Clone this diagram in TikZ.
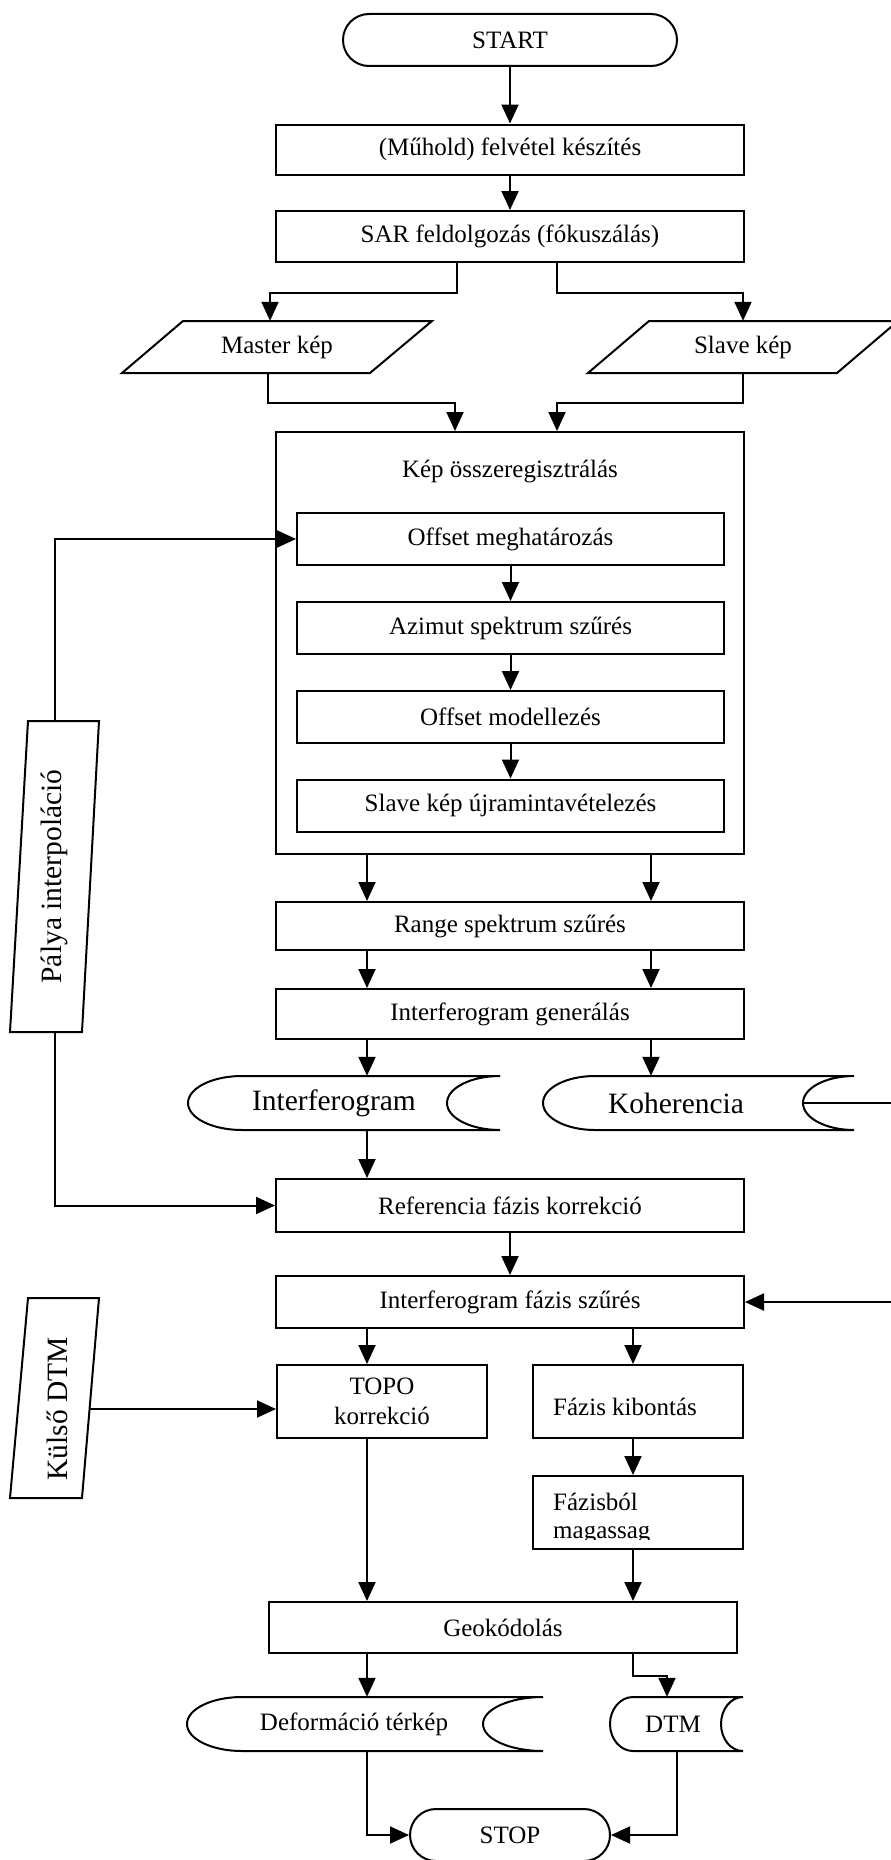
\documentclass[tikz,border=0pt]{standalone}
\usepackage{fontspec}
\setmainfont{Liberation Serif}
\usetikzlibrary{arrows.meta,calc}
\newcommand\fsmain{\fontsize{25}{29.5}\selectfont}
\newcommand\fsbig{\fontsize{29.5}{35}\selectfont}
% stored-data outline: x1, x2, ytop, ybot, left bulge, right concave depth
\newcommand\storeshape[6]{%
  \pgfmathsetmacro\sYm{(#3+#4)/2}%
  \pgfmathsetmacro\sRy{(#4-#3)/2}%
  \pgfmathsetmacro\sXa{#1+#5}%
  \pgfmathsetmacro\sKa{#1+0.4477*#5}%
  \pgfmathsetmacro\sXc{#2-#6}%
  \pgfmathsetmacro\sKr{#2-0.5523*#6}%
  \pgfmathsetmacro\sYa{\sYm-0.5523*\sRy}%
  \pgfmathsetmacro\sYb{\sYm+0.5523*\sRy}%
  \draw[ln,fill=white] (\sXa,#3) -- (#2,#3) .. controls (\sKr,#3) and (\sXc,\sYa) .. (\sXc,\sYm)
    .. controls (\sXc,\sYb) and (\sKr,#4) .. (#2,#4) -- (\sXa,#4)
    .. controls (\sKa,#4) and (#1,\sYb) .. (#1,\sYm) .. controls (#1,\sYa) and (\sKa,#3) .. cycle;
}
\tikzset{
  ln/.style={line width=2pt},
  arr/.style={ln,-{Triangle[length=19pt,width=17pt]}},
  box/.style={draw,ln,rectangle,fill=white,inner sep=0pt,font=\fsmain,align=center},
  term/.style={box,rounded corners=26pt},
  txt/.style={inner sep=0pt,font=\fsmain,align=center},
  bigtxt/.style={inner sep=0pt,font=\fsbig},
}
\begin{document}
\begin{tikzpicture}[x=1pt,y=-1pt]
\useasboundingbox (0,0) rectangle (891,1860);
\fill[white] (0,0) rectangle (891,1860);
\clip (0,0) rectangle (891,1860);

% column coordinates
\coordinate (cL) at (367,0);
\coordinate (cR) at (651,0);
\coordinate (cF) at (633,0);
\coordinate (cD) at (667,0);
\coordinate (cD2) at (677,0);
\coordinate (kohR) at (905,1103);

% top
\node[term,minimum width=334pt,minimum height=52pt] (start) at (510,40) {START};
\node[box,minimum width=468pt,minimum height=50pt] (b1) at (510,149.5) {(Műhold) felvétel készítés};
\node[box,minimum width=468pt,minimum height=51pt] (b2) at (510,236.5) {SAR feldolgozás (fókuszálás)};

% input parallelograms
\draw[ln,fill=white] (183,321) -- (432,321) -- (370,373) -- (122,373) -- cycle;
\node[txt,minimum width=190pt,minimum height=52pt] (master) at (277,347) {Master kép};
\draw[ln,fill=white] (649,321) -- (898,321) -- (837,373) -- (588,373) -- cycle;
\node[txt,minimum width=190pt,minimum height=52pt] (slave) at (743,347) {Slave kép};

% registration block
\node[box,minimum width=468pt,minimum height=422pt] (reg) at (510,643) {};
\node[txt] (regtitle) at (510,472) {Kép összeregisztrálás};
\node[box,minimum width=427pt,minimum height=52pt] (i1) at (510.5,539) {Offset meghatározás};
\node[box,minimum width=427pt,minimum height=52pt] (i2) at (510.5,628) {Azimut spektrum szűrés};
\node[box,minimum width=427pt,minimum height=52pt] (i3) at (510.5,717) {Offset modellezés};
\node[box,minimum width=427pt,minimum height=52pt] (i4) at (510.5,805.5) {Slave kép újramintavételezés};

\node[box,minimum width=468pt,minimum height=48pt] (range) at (510,926) {Range spektrum szűrés};
\node[box,minimum width=468pt,minimum height=50pt] (gen) at (510,1014) {Interferogram generálás};

% stored data
\storeshape{188}{500}{1076}{1130}{54}{53}
\node[bigtxt,minimum width=200pt,minimum height=54pt] (ifg) at (334,1103) {Interferogram};
\storeshape{543}{854}{1076}{1130}{52}{51}
\node[bigtxt,minimum width=254pt,minimum height=54pt] (koh) at (676,1103) {Koherencia};

\node[box,minimum width=468pt,minimum height=53pt] (ref) at (510,1205.5) {Referencia fázis korrekció};
\node[box,minimum width=468pt,minimum height=52pt] (fsz) at (510,1302) {Interferogram fázis szűrés};

% side inputs
\draw[ln,fill=white] (28,721) -- (99,721) -- (82,1032) -- (10,1032) -- cycle;
\node[bigtxt,rotate=90,minimum width=311pt,minimum height=60pt] (palya) at (54.5,876.5) {Pálya interpoláció};
\draw[ln,fill=white] (28,1298) -- (99,1298) -- (82,1498) -- (10,1498) -- cycle;
\node[bigtxt,rotate=90,minimum width=200pt,minimum height=66pt] (kulso) at (57,1409) {Külső DTM};

\node[box,minimum width=210pt,minimum height=73pt] (topo) at (382,1401.5) {TOPO\\korrekció};
\node[box,minimum width=210pt,minimum height=73pt] (fk) at (638,1401.5) {};
\node[txt,anchor=base west] (fkt) at (553,1415) {Fázis kibontás};
\node[box,minimum width=210pt,minimum height=73pt] (fm) at (638,1512.5) {};
\begin{scope}
  \clip (533,1478) rectangle (743,1520);
  \node[txt,anchor=base west] (fmt1) at (553,1510) {Fázisból};
\end{scope}
\begin{scope}
  \clip (533,1526) rectangle (743,1539);
  \node[txt,anchor=base west] (fmt2) at (553,1538.5) {magasság};
\end{scope}

\node[box,minimum width=468pt,minimum height=51pt] (geo) at (503,1627.5) {Geokódolás};

\storeshape{187}{543}{1697}{1751}{55}{60}
\node[txt,minimum width=250pt,minimum height=54pt] (def) at (354,1724) {Deformáció térkép};
\storeshape{610}{743}{1697}{1751}{23}{22}
\node[txt,minimum width=60pt,minimum height=54pt] (dtm) at (673,1724) {DTM};

\node[term,minimum width=200pt,minimum height=52pt] (stop) at (510,1835) {STOP};

% connectors
\draw[arr] (start.south) -- (b1.north);
\draw[arr] (b1.south) -- (b2.north);
\draw[arr] ($(b2.south)+(-53,0)$) -- ++(0,30) -| ($(master.north)+(-7,0)$);
\draw[arr] ($(b2.south)+(47,0)$) -- ++(0,30) -| (slave.north);
\draw[arr] ($(master.south)+(-9,0)$) -- ++(0,30) -| ($(reg.north)+(-55,0)$);
\draw[arr] (slave.south) -- ++(0,30) -| ($(reg.north)+(47,0)$);
\draw[arr] (i1.south) -- (i2.north);
\draw[arr] (i2.south) -- (i3.north);
\draw[arr] (i3.south) -- (i4.north);
\draw[arr] (palya.east) |- (i1.west);
\draw[arr] (reg.south -| cL) -- (range.north -| cL);
\draw[arr] (reg.south -| cR) -- (range.north -| cR);
\draw[arr] (range.south -| cL) -- (gen.north -| cL);
\draw[arr] (range.south -| cR) -- (gen.north -| cR);
\draw[arr] (gen.south -| cL) -- (ifg.north -| cL);
\draw[arr] (gen.south -| cR) -- (koh.north -| cR);
\draw[arr] (ifg.south -| cL) -- (ref.north -| cL);
\draw[arr] (palya.west) |- (ref.west);
\draw[arr] (koh.east) -- (kohR) |- (fsz.east);
\draw[arr] (ref.south) -- (fsz.north);
\draw[arr] (fsz.south -| cL) -- (topo.north -| cL);
\draw[arr] (fsz.south -| cF) -- (fk.north -| cF);
\draw[arr] (kulso.south) -- (kulso.south -| topo.west);
\draw[arr] (fk.south -| cF) -- (fm.north -| cF);
\draw[arr] (topo.south -| cL) -- (geo.north -| cL);
\draw[arr] (fm.south -| cF) -- (geo.north -| cF);
\draw[arr] (geo.south -| cL) -- (def.north -| cL);
\draw[arr] (geo.south -| cF) -- ++(0,22) -| (dtm.north -| cD);
\draw[arr] (def.south -| cL) |- (stop.west);
\draw[arr] (dtm.south -| cD2) |- (stop.east);
\end{tikzpicture}
\end{document}
